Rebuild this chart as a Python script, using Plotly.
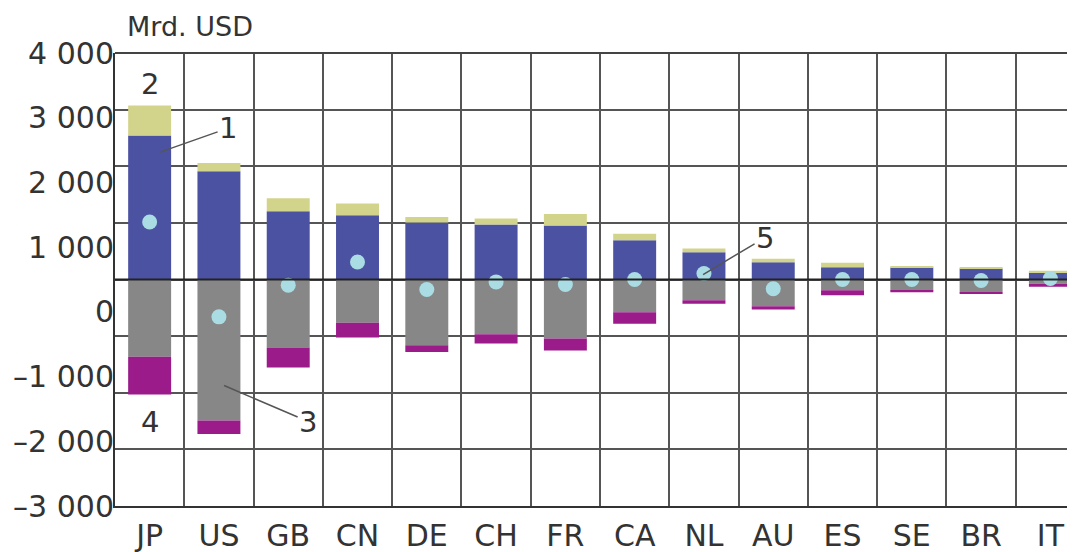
import plotly.graph_objects as go

countries = ["JP", "US", "GB", "CN", "DE", "CH", "FR", "CA", "NL", "AU", "ES", "SE", "BR", "IT"]
assets_1 = [2545, 1910, 1205, 1134, 1005, 970, 952, 693, 482, 305, 217, 212, 194, 124]
assets_2 = [529, 147, 229, 206, 99, 106, 205, 113, 65, 60, 78, 23, 24, 30]
liab_3 = [-1365, -2490, -1200, -765, -1159, -965, -1041, -577, -365, -471, -189, -194, -224, -76]
liab_4 = [-665, -240, -352, -258, -123, -164, -211, -205, -64, -58, -88, -30, -29, -53]
net_5 = [1016, -660, -100, 310, -176, -42, -88, 0, 106, -164, 0, 0, -18, 18]

grid_vals = [-4000, -3000, -2000, -1000, 0, 1000, 2000, 3000, 4000]
label_vals = [-3000, -2000, -1000, 0, 1000, 2000, 3000, 4000]
label_text = ["\u20133 000", "\u20132 000", "\u20131 000", "0", "1 000", "2 000", "3 000", "4 000"]

FONT = "DejaVu Sans"
TXT = "#333333"
GRID = "#555555"
FS = 30

fig = go.Figure()
fig.add_bar(x=countries, y=assets_1, marker=dict(color="#4b52a2", line=dict(width=0)), width=0.62, name="1")
fig.add_bar(x=countries, y=assets_2, marker=dict(color="#d3d48b", line=dict(width=0)), width=0.62, name="2")
fig.add_bar(x=countries, y=liab_3, marker=dict(color="#878787", line=dict(width=0)), width=0.62, name="3")
fig.add_bar(x=countries, y=liab_4, marker=dict(color="#9b1b8b", line=dict(width=0)), width=0.62, name="4")
fig.add_scatter(x=countries, y=net_5, mode="markers",
                marker=dict(color="#a9dde3", size=15, line=dict(width=0)), name="5")
# helper trace for the label axis
fig.add_scatter(x=[countries[0]], y=[None], yaxis="y2", mode="markers",
                showlegend=False, hoverinfo="skip")

fig.add_shape(type="line", xref="paper", yref="y", x0=0, x1=1, y0=0, y1=0,
              line=dict(color="#222222", width=2), layer="above")

notes = [
    dict(text="2", x="JP", y=3445, showarrow=False),
    dict(text="4", x="JP", y=-2509, showarrow=False),
    dict(text="1", x=0.151, y=2249, ax=68, ay=-24, showarrow=True),
    dict(text="3", x=1.075, y=-1873, ax=84, ay=36, showarrow=True),
    dict(text="5", x=7.987, y=88, ax=62, ay=-37, showarrow=True),
]
for n in notes:
    fig.add_annotation(xref="x", yref="y", font=dict(family=FONT, size=29, color=TXT),
                       arrowhead=0, arrowwidth=1.5, arrowcolor="#555555", standoff=0,
                       **n)

fig.add_annotation(text="Mrd. USD", xref="paper", yref="paper", x=0.0104, y=1.0,
                   xanchor="left", yanchor="bottom", yshift=9, showarrow=False,
                   font=dict(family=FONT, size=27, color=TXT))

fig.update_layout(
    width=1067, height=544,
    margin=dict(l=107, r=0, t=45, b=46, autoexpand=False),
    paper_bgcolor="white", plot_bgcolor="white",
    barmode="relative", showlegend=False,
    font=dict(family=FONT, size=FS, color=TXT),
    xaxis=dict(type="category", range=[-0.5, 13.355], tickson="boundaries",
               showgrid=True, gridcolor=GRID, gridwidth=1.5, ticks="", automargin=False,
               showline=True, linecolor="#333333", linewidth=2, mirror=False,
               ticklabelstandoff=2,
               tickfont=dict(family=FONT, size=FS, color=TXT)),
    yaxis=dict(range=[-4000, 4000], tickvals=grid_vals, showticklabels=False, automargin=False,
               showgrid=True, gridcolor=GRID, gridwidth=1.5, zeroline=False, ticks="",
               showline=True, linecolor="#333333", linewidth=2),
    yaxis2=dict(overlaying="y", side="left", range=[-3000, 4000], tickvals=label_vals,
                ticktext=label_text, showgrid=False, zeroline=False, ticks="", automargin=False,
                showline=False, tickfont=dict(family=FONT, size=FS, color=TXT)),
)
fig.add_shape(type="line", xref="paper", yref="paper", x0=0, x1=1, y0=1, y1=1,
              line=dict(color="#444444", width=2), layer="above")

fig.write_html("out.html")
